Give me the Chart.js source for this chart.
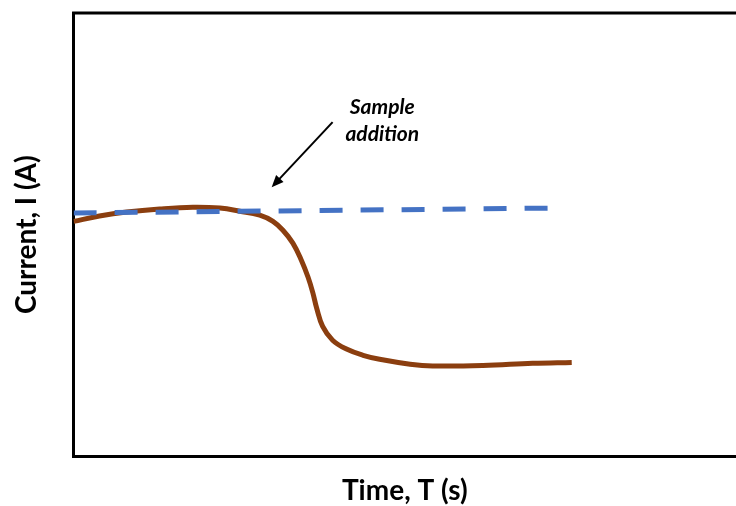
<!DOCTYPE html>
<html>
<head>
<meta charset="utf-8">
<script src="https://cdn.jsdelivr.net/npm/chart.js@4/dist/chart.umd.min.js"></script>
<style>
  body { margin: 0; background: #fff; }
  #wrap { width: 736px; height: 506px; }
</style>
</head>
<body>
<div id="wrap"><canvas id="chart" width="736" height="506"></canvas></div>
<script>
// --- data (time / current in arbitrary units, 0..100) ---
const timeSignal    = [0, 3.9, 8.0, 13.0, 18.0, 22.1, 25.1, 28.1, 30.1, 31.6, 33.1, 34.4, 35.4, 36.1, 36.7, 37.6, 39.1, 41.2, 43.7, 46.2, 50.8, 54.2, 61.8, 69.3, 75.2];
const currentSignal = [53.0, 54.2, 55.1, 55.8, 56.2, 56.0, 55.3, 54.4, 53.0, 51.0, 48.1, 44.2, 40.4, 37.0, 33.4, 29.3, 26.2, 24.2, 22.8, 21.9, 20.8, 20.4, 20.5, 21.0, 21.2];
const timeBaseline    = [0, 72.2];
const currentBaseline = [54.9, 56.0];

// annotation: arrow tail/head and label anchor (data units)
const arrowFrom = [39.1, 75.4];
const arrowTo   = [29.9, 60.7];
const noteAt    = [46.6, 78.8];
const noteLines = ['Sample', 'addition'];

const FONT = "Lato, 'Open Sans', sans-serif";

const zip = (xs, ys) => xs.map((x, i) => ({ x, y: ys[i] }));

// top frame line + arrow + label
const annotatePlugin = {
    id: 'annotate',
    afterDraw(chart) {
        const { ctx, chartArea, scales: { x, y } } = chart;
        ctx.save();
        ctx.strokeStyle = '#000';
        ctx.lineWidth = 3;
        ctx.beginPath();
        ctx.moveTo(chartArea.left - 1.5, chartArea.top);
        ctx.lineTo(chartArea.right, chartArea.top);
        ctx.stroke();

        const x0 = x.getPixelForValue(arrowFrom[0]), y0 = y.getPixelForValue(arrowFrom[1]);
        const x1 = x.getPixelForValue(arrowTo[0]),   y1 = y.getPixelForValue(arrowTo[1]);
        const ang = Math.atan2(y1 - y0, x1 - x0);
        const head = 13;
        ctx.lineWidth = 2;
        ctx.beginPath();
        ctx.moveTo(x0, y0);
        ctx.lineTo(x1 - Math.cos(ang) * head * 0.8, y1 - Math.sin(ang) * head * 0.8);
        ctx.stroke();
        ctx.fillStyle = '#000';
        ctx.beginPath();
        ctx.moveTo(x1, y1);
        ctx.lineTo(x1 - head * Math.cos(ang - 0.4), y1 - head * Math.sin(ang - 0.4));
        ctx.lineTo(x1 - head * Math.cos(ang + 0.4), y1 - head * Math.sin(ang + 0.4));
        ctx.closePath();
        ctx.fill();

        ctx.font = `italic 700 21px ${FONT}`;
        ctx.textAlign = 'center';
        ctx.textBaseline = 'middle';
        const tx = x.getPixelForValue(noteAt[0]), ty = y.getPixelForValue(noteAt[1]);
        noteLines.forEach((t, i) => ctx.fillText(t, tx, ty + i * 27));
        ctx.restore();
    }
};

new Chart(document.getElementById('chart'), {
    type: 'line',
    plugins: [annotatePlugin],
    data: {
        datasets: [
            {
                data: zip(timeBaseline, currentBaseline),
                borderColor: '#4472C4',
                borderWidth: 5,
                borderDash: [23, 18],
                borderCapStyle: 'butt',
                pointRadius: 0,
                fill: false,
            },
            {
                data: zip(timeSignal, currentSignal),
                borderColor: '#8B3E0F',
                borderWidth: 5,
                tension: 0.4,
                pointRadius: 0,
                fill: false,
            }
        ]
    },
    options: {
        responsive: false,
        animation: false,
        layout: { padding: { top: 13, left: 0, right: 0, bottom: 0 } },
        plugins: { legend: { display: false }, tooltip: { enabled: false } },
        scales: {
            x: {
                type: 'linear', min: 0, max: 100,
                grid: { display: false, drawTicks: false },
                ticks: { display: false },
                border: { color: '#000', width: 3 },
                title: {
                    display: true, text: 'Time, T (s)', color: '#000',
                    font: { family: FONT, size: 28, weight: '700' },
                    padding: { top: 18, bottom: -2 }
                }
            },
            y: {
                min: 0, max: 100,
                grid: { display: false, drawTicks: false },
                ticks: { display: false },
                border: { color: '#000', width: 3 },
                title: {
                    display: true, text: 'Current, I (A)', color: '#000',
                    font: { family: FONT, size: 28, weight: '700' },
                    padding: { top: 10, bottom: 30 }
                }
            }
        }
    }
});
</script>
</body>
</html>
